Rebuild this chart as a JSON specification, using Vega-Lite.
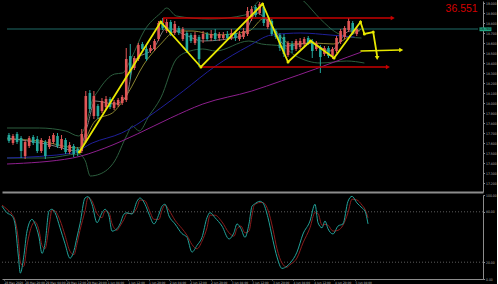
{
"$schema": "https://vega.github.io/schema/vega-lite/v6.json",
"background": "#000000",
"padding": 0,
"spacing": 1,
"usermeta": {"embedOptions": {"actions": false}},
"config": {
  "view": {"stroke": null},
  "axis": {"grid": false, "domain": true, "domainColor": "#8c8c8c", "tickColor": "#8c8c8c", "labelColor": "#b4b4b4", "labelFont": "DejaVu Sans Condensed", "labelFontSize": 3.4, "tickSize": 1.5, "labelPadding": 1}
},
"datasets": {
  "candles": [
    {"t":0,"o":17.68,"c":17.62,"h":17.70,"l":17.60},
    {"t":1,"o":17.60,"c":17.67,"h":17.69,"l":17.58},
    {"t":2,"o":17.69,"c":17.61,"h":17.71,"l":17.59},
    {"t":3,"o":17.65,"c":17.52,"h":17.67,"l":17.45},
    {"t":4,"o":17.47,"c":17.61,"h":17.63,"l":17.44},
    {"t":5,"o":17.57,"c":17.65,"h":17.67,"l":17.55},
    {"t":6,"o":17.66,"c":17.60,"h":17.68,"l":17.58},
    {"t":7,"o":17.64,"c":17.52,"h":17.67,"l":17.50},
    {"t":8,"o":17.52,"c":17.63,"h":17.65,"l":17.50},
    {"t":9,"o":17.61,"c":17.47,"h":17.63,"l":17.44},
    {"t":10,"o":17.56,"c":17.64,"h":17.67,"l":17.54},
    {"t":11,"o":17.61,"c":17.68,"h":17.70,"l":17.59},
    {"t":12,"o":17.67,"c":17.57,"h":17.70,"l":17.55},
    {"t":13,"o":17.55,"c":17.64,"h":17.68,"l":17.53},
    {"t":14,"o":17.63,"c":17.51,"h":17.65,"l":17.49},
    {"t":15,"o":17.51,"c":17.58,"h":17.61,"l":17.49},
    {"t":16,"o":17.57,"c":17.49,"h":17.59,"l":17.46},
    {"t":17,"o":17.54,"c":17.50,"h":17.56,"l":17.47},
    {"t":18,"o":17.52,"c":17.69,"h":17.74,"l":17.50},
    {"t":19,"o":17.62,"c":18.07,"h":18.12,"l":17.60},
    {"t":20,"o":18.10,"c":17.94,"h":18.13,"l":17.90},
    {"t":21,"o":17.87,"c":18.07,"h":18.12,"l":17.84},
    {"t":22,"o":17.97,"c":17.87,"h":17.99,"l":17.84},
    {"t":23,"o":17.92,"c":18.02,"h":18.05,"l":17.90},
    {"t":24,"o":17.96,"c":18.04,"h":18.07,"l":17.93},
    {"t":25,"o":18.04,"c":17.96,"h":18.06,"l":17.94},
    {"t":26,"o":17.95,"c":18.01,"h":18.03,"l":17.93},
    {"t":27,"o":17.98,"c":18.03,"h":18.05,"l":17.96},
    {"t":28,"o":18.00,"c":18.06,"h":18.08,"l":17.98},
    {"t":29,"o":18.03,"c":18.44,"h":18.55,"l":18.01},
    {"t":30,"o":18.47,"c":18.30,"h":18.59,"l":18.24},
    {"t":31,"o":18.35,"c":18.45,"h":18.47,"l":18.33},
    {"t":32,"o":18.44,"c":18.58,"h":18.60,"l":18.42},
    {"t":33,"o":18.59,"c":18.54,"h":18.61,"l":18.51},
    {"t":34,"o":18.54,"c":18.44,"h":18.57,"l":18.42},
    {"t":35,"o":18.52,"c":18.55,"h":18.58,"l":18.50},
    {"t":36,"o":18.54,"c":18.62,"h":18.64,"l":18.52},
    {"t":37,"o":18.64,"c":18.80,"h":18.82,"l":18.62},
    {"t":38,"o":18.82,"c":18.75,"h":18.85,"l":18.73},
    {"t":39,"o":18.72,"c":18.81,"h":18.84,"l":18.70},
    {"t":40,"o":18.81,"c":18.69,"h":18.83,"l":18.67},
    {"t":41,"o":18.70,"c":18.79,"h":18.82,"l":18.68},
    {"t":42,"o":18.75,"c":18.70,"h":18.77,"l":18.68},
    {"t":43,"o":18.64,"c":18.74,"h":18.76,"l":18.62},
    {"t":44,"o":18.70,"c":18.52,"h":18.72,"l":18.50},
    {"t":45,"o":18.68,"c":18.62,"h":18.70,"l":18.60},
    {"t":46,"o":18.60,"c":18.68,"h":18.71,"l":18.58},
    {"t":47,"o":18.66,"c":18.44,"h":18.68,"l":18.36},
    {"t":48,"o":18.64,"c":18.69,"h":18.72,"l":18.60},
    {"t":49,"o":18.69,"c":18.64,"h":18.71,"l":18.62},
    {"t":50,"o":18.65,"c":18.69,"h":18.73,"l":18.62},
    {"t":51,"o":18.70,"c":18.64,"h":18.74,"l":18.62},
    {"t":52,"o":18.65,"c":18.69,"h":18.71,"l":18.62},
    {"t":53,"o":18.65,"c":18.68,"h":18.71,"l":18.63},
    {"t":54,"o":18.69,"c":18.65,"h":18.72,"l":18.63},
    {"t":55,"o":18.65,"c":18.70,"h":18.74,"l":18.63},
    {"t":56,"o":18.70,"c":18.65,"h":18.72,"l":18.62},
    {"t":57,"o":18.64,"c":18.69,"h":18.72,"l":18.62},
    {"t":58,"o":18.66,"c":18.72,"h":18.75,"l":18.64},
    {"t":59,"o":18.69,"c":18.92,"h":18.96,"l":18.67},
    {"t":60,"o":18.84,"c":18.94,"h":18.97,"l":18.82},
    {"t":61,"o":18.96,"c":18.88,"h":18.98,"l":18.86},
    {"t":62,"o":18.90,"c":18.99,"h":19.01,"l":18.88},
    {"t":63,"o":18.96,"c":18.80,"h":18.98,"l":18.77},
    {"t":64,"o":18.76,"c":18.84,"h":18.86,"l":18.74},
    {"t":65,"o":18.82,"c":18.69,"h":18.84,"l":18.67},
    {"t":66,"o":18.72,"c":18.66,"h":18.74,"l":18.64},
    {"t":67,"o":18.68,"c":18.55,"h":18.70,"l":18.52},
    {"t":68,"o":18.66,"c":18.49,"h":18.69,"l":18.46},
    {"t":69,"o":18.48,"c":18.60,"h":18.62,"l":18.46},
    {"t":70,"o":18.59,"c":18.53,"h":18.62,"l":18.50},
    {"t":71,"o":18.54,"c":18.62,"h":18.64,"l":18.52},
    {"t":72,"o":18.56,"c":18.62,"h":18.65,"l":18.54},
    {"t":73,"o":18.59,"c":18.64,"h":18.66,"l":18.57},
    {"t":74,"o":18.65,"c":18.60,"h":18.67,"l":18.58},
    {"t":75,"o":18.62,"c":18.52,"h":18.64,"l":18.45},
    {"t":76,"o":18.54,"c":18.60,"h":18.62,"l":18.52},
    {"t":77,"o":18.56,"c":18.46,"h":18.58,"l":18.30},
    {"t":78,"o":18.49,"c":18.55,"h":18.57,"l":18.47},
    {"t":79,"o":18.55,"c":18.47,"h":18.57,"l":18.45},
    {"t":80,"o":18.47,"c":18.54,"h":18.56,"l":18.44},
    {"t":81,"o":18.52,"c":18.65,"h":18.67,"l":18.50},
    {"t":82,"o":18.61,"c":18.72,"h":18.74,"l":18.59},
    {"t":83,"o":18.66,"c":18.75,"h":18.77,"l":18.64},
    {"t":84,"o":18.73,"c":18.82,"h":18.85,"l":18.71},
    {"t":85,"o":18.80,"c":18.70,"h":18.82,"l":18.68},
    {"t":86,"o":18.69,"c":18.74,"h":18.76,"l":18.67}
  ],
  "lines": [
    {"s":"bbu","t":-0.48,"p":17.75},{"s":"bbu","t":7.51,"p":17.75},{"s":"bbu","t":14.04,"p":17.72},{"s":"bbu","t":17.19,"p":17.67},{"s":"bbu","t":18.89,"p":17.77},{"s":"bbu","t":20.58,"p":18.02},{"s":"bbu","t":22.03,"p":18.12},{"s":"bbu","t":26.15,"p":18.29},{"s":"bbu","t":28.09,"p":18.30},{"s":"bbu","t":30.27,"p":18.45},{"s":"bbu","t":33.41,"p":18.72},{"s":"bbu","t":37.53,"p":18.90},{"s":"bbu","t":38.98,"p":18.95},{"s":"bbu","t":41.4,"p":18.87},{"s":"bbu","t":49.64,"p":18.84},{"s":"bbu","t":58.35,"p":18.88},{"s":"bbu","t":61.26,"p":19.00},{"s":"bbu","t":63.68,"p":19.10},{"s":"bbu","t":69.73,"p":19.12},{"s":"bbu","t":72.88,"p":19.02},{"s":"bbu","t":77,"p":18.84},{"s":"bbu","t":81.11,"p":18.70},{"s":"bbu","t":84.26,"p":18.66},{"s":"bbu","t":87.17,"p":18.65},
    {"s":"bbl","t":-0.48,"p":17.45},{"s":"bbl","t":9.2,"p":17.45},{"s":"bbl","t":17.19,"p":17.49},{"s":"bbl","t":18.89,"p":17.42},{"s":"bbl","t":20.1,"p":17.27},{"s":"bbl","t":22.52,"p":17.29},{"s":"bbl","t":26.15,"p":17.42},{"s":"bbl","t":29.06,"p":17.67},{"s":"bbl","t":30.51,"p":17.77},{"s":"bbl","t":32.2,"p":17.72},{"s":"bbl","t":34.62,"p":17.87},{"s":"bbl","t":37.53,"p":18.05},{"s":"bbl","t":41.4,"p":18.44},{"s":"bbl","t":44.79,"p":18.52},{"s":"bbl","t":47.94,"p":18.54},{"s":"bbl","t":51.09,"p":18.52},{"s":"bbl","t":59.32,"p":18.62},{"s":"bbl","t":62.47,"p":18.59},{"s":"bbl","t":67.31,"p":18.57},{"s":"bbl","t":70.94,"p":18.47},{"s":"bbl","t":77,"p":18.40},{"s":"bbl","t":83.54,"p":18.42},{"s":"bbl","t":87.89,"p":18.40},
    {"s":"olive","t":-0.48,"p":17.64},{"s":"olive","t":7.51,"p":17.62},{"s":"olive","t":17.19,"p":17.55},{"s":"olive","t":21.31,"p":17.82},{"s":"olive","t":26.15,"p":17.92},{"s":"olive","t":29.3,"p":18.09},{"s":"olive","t":33.41,"p":18.39},{"s":"olive","t":37.53,"p":18.59},{"s":"olive","t":41.4,"p":18.72},{"s":"olive","t":45.52,"p":18.72},{"s":"olive","t":51.09,"p":18.68},{"s":"olive","t":59.32,"p":18.72},{"s":"olive","t":63.2,"p":18.85},{"s":"olive","t":66.59,"p":18.69},{"s":"olive","t":69.73,"p":18.59},{"s":"olive","t":75.3,"p":18.60},{"s":"olive","t":80.15,"p":18.59},{"s":"olive","t":84.99,"p":18.69},{"s":"olive","t":87.17,"p":18.74},
    {"s":"gray","t":-0.48,"p":17.65},{"s":"gray","t":9.2,"p":17.59},{"s":"gray","t":17.19,"p":17.52},{"s":"gray","t":19.37,"p":17.77},{"s":"gray","t":21.31,"p":18.02},{"s":"gray","t":26.15,"p":17.99},{"s":"gray","t":29.06,"p":18.07},{"s":"gray","t":30.99,"p":18.42},{"s":"gray","t":35.84,"p":18.55},{"s":"gray","t":38.98,"p":18.75},{"s":"gray","t":43.1,"p":18.69},{"s":"gray","t":47.94,"p":18.62},{"s":"gray","t":57.63,"p":18.67},{"s":"gray","t":61.26,"p":18.90},{"s":"gray","t":64.89,"p":18.77},{"s":"gray","t":68.52,"p":18.57},{"s":"gray","t":74.58,"p":18.60},{"s":"gray","t":79.42,"p":18.52},{"s":"gray","t":84.26,"p":18.72},{"s":"gray","t":86.68,"p":18.72},
    {"s":"blue","t":-0.48,"p":17.45},{"s":"blue","t":15.74,"p":17.50},{"s":"blue","t":20.58,"p":17.60},{"s":"blue","t":27.85,"p":17.70},{"s":"blue","t":37.53,"p":17.95},{"s":"blue","t":43.1,"p":18.12},{"s":"blue","t":51.09,"p":18.37},{"s":"blue","t":59.32,"p":18.57},{"s":"blue","t":64.89,"p":18.68},{"s":"blue","t":72.15,"p":18.70},{"s":"blue","t":79.42,"p":18.68},{"s":"blue","t":85.47,"p":18.66},
    {"s":"purple","t":-0.48,"p":17.39},{"s":"purple","t":15.74,"p":17.45},{"s":"purple","t":23.73,"p":17.55},{"s":"purple","t":31.72,"p":17.69},{"s":"purple","t":39.95,"p":17.85},{"s":"purple","t":47.94,"p":17.99},{"s":"purple","t":60.05,"p":18.12},{"s":"purple","t":67.31,"p":18.22},{"s":"purple","t":75.79,"p":18.34},{"s":"purple","t":83.78,"p":18.46},{"s":"purple","t":87.17,"p":18.51}
  ],
  "zig": [
    {"k":0,"t":17.43,"p":17.51,"v":1},{"k":1,"t":37.53,"p":18.81,"v":1},{"k":2,"t":47.46,"p":18.36,"v":1},{"k":3,"t":62.71,"p":18.99,"v":1},{"k":4,"t":69.01,"p":18.41,"v":1},{"k":5,"t":74.58,"p":18.62,"v":1},{"k":6,"t":80.39,"p":18.45,"v":1},{"k":7,"t":86.92,"p":18.81,"v":1},{"k":8,"t":87.89,"p":18.69,"v":1},{"k":9,"t":90.07,"p":18.71,"v":1},{"k":10,"t":91.04,"p":18.47,"v":0}
  ],
  "red": [
    {"g":"up","k":0,"t":38.26,"p":18.80},{"g":"up","k":1,"t":38.26,"p":18.85},{"g":"up","k":2,"t":94.67,"p":18.85},
    {"g":"lo","k":0,"t":47.46,"p":18.36},{"g":"lo","k":1,"t":93.46,"p":18.36}
  ],
  "harrow": [{"t":86.92,"p":18.52},{"t":96.85,"p":18.53}],
  "heads": [
    {"t":94.9,"p":18.85,"shape":"triangle-right","col":"#c80000"},
    {"t":93.7,"p":18.36,"shape":"triangle-right","col":"#c80000"},
    {"t":97.0,"p":18.53,"shape":"triangle-right","col":"#e8e800"},
    {"t":91.04,"p":18.45,"shape":"triangle-down","col":"#e8e800"}
  ],
  "oscK": [
    {"t":-0.48,"v":86.7},{"t":0.73,"v":78.8},{"t":1.94,"v":75},{"t":2.66,"v":65.6},{"t":3.5,"v":26},{"t":3.95,"v":7},{"t":4.77,"v":26},{"t":5.57,"v":57},{"t":6.78,"v":71},{"t":7.51,"v":65.6},{"t":8.47,"v":50},{"t":9.2,"v":30.5},{"t":9.93,"v":42},{"t":10.9,"v":81},{"t":11.62,"v":83},{"t":12.35,"v":79},{"t":13.56,"v":61},{"t":14.77,"v":42},{"t":15.98,"v":24.7},{"t":16.95,"v":34},{"t":17.68,"v":50},{"t":18.4,"v":65.6},{"t":19.61,"v":96.4},{"t":20.34,"v":98},{"t":21.31,"v":89},{"t":22.52,"v":67},{"t":23.73,"v":78.8},{"t":24.46,"v":83},{"t":25.42,"v":75},{"t":26.15,"v":57},{"t":27.36,"v":59.8},{"t":28.09,"v":65.6},{"t":29.06,"v":77.3},{"t":29.78,"v":78.8},{"t":30.99,"v":77.3},{"t":32.2,"v":92.5},{"t":32.93,"v":96.4},{"t":34.14,"v":89},{"t":35.11,"v":77.3},{"t":36.32,"v":65.6},{"t":37.53,"v":77.3},{"t":38.26,"v":86.7},{"t":38.98,"v":89},{"t":39.95,"v":75},{"t":41.4,"v":65.6},{"t":43.1,"v":54},{"t":44.31,"v":49.6},{"t":45.52,"v":32},{"t":46.73,"v":40},{"t":47.94,"v":49.6},{"t":49.15,"v":73},{"t":49.88,"v":79},{"t":51.09,"v":73},{"t":52.78,"v":63},{"t":54.48,"v":47.7},{"t":55.69,"v":55.4},{"t":56.42,"v":65.6},{"t":57.38,"v":59.8},{"t":58.35,"v":49.6},{"t":59.32,"v":65.6},{"t":60.05,"v":86.7},{"t":60.6,"v":89},{"t":61.99,"v":92.5},{"t":62.71,"v":90.5},{"t":63.92,"v":73},{"t":65.13,"v":45.7},{"t":66.1,"v":26.2},{"t":67.31,"v":12.6},{"t":68.52,"v":15.3},{"t":69.25,"v":18.8},{"t":70.94,"v":32},{"t":72.4,"v":53.6},{"t":74.09,"v":69},{"t":75.3,"v":89},{"t":76.03,"v":67},{"t":77,"v":61},{"t":77.72,"v":69},{"t":78.45,"v":59.8},{"t":79.66,"v":53.6},{"t":80.87,"v":63},{"t":82.08,"v":65.6},{"t":83.29,"v":92.5},{"t":84.26,"v":98.4},{"t":85.47,"v":90.5},{"t":86.68,"v":84.7},{"t":87.41,"v":80.8},{"t":88.14,"v":65.6}
  ],
  "oscD": [
    {"t":-0.48,"v":88},{"t":0.73,"v":83},{"t":1.94,"v":77},{"t":2.66,"v":70},{"t":3.5,"v":45},{"t":3.95,"v":20},{"t":4.77,"v":15},{"t":5.57,"v":40},{"t":6.78,"v":64},{"t":7.51,"v":68},{"t":8.47,"v":58},{"t":9.2,"v":40},{"t":9.93,"v":36},{"t":10.9,"v":62},{"t":11.62,"v":82},{"t":12.35,"v":81},{"t":13.56,"v":70},{"t":14.77,"v":52},{"t":15.98,"v":33},{"t":16.95,"v":29},{"t":17.68,"v":42},{"t":18.4,"v":58},{"t":19.61,"v":81},{"t":20.34,"v":97},{"t":21.31,"v":93},{"t":22.52,"v":78},{"t":23.73,"v":73},{"t":24.46,"v":81},{"t":25.42,"v":79},{"t":26.15,"v":66},{"t":27.36,"v":58},{"t":28.09,"v":63},{"t":29.06,"v":71},{"t":29.78,"v":78},{"t":30.99,"v":78},{"t":32.2,"v":85},{"t":32.93,"v":94},{"t":34.14,"v":93},{"t":35.11,"v":83},{"t":36.32,"v":71},{"t":37.53,"v":71},{"t":38.26,"v":82},{"t":38.98,"v":88},{"t":39.95,"v":82},{"t":41.4,"v":70},{"t":43.1,"v":60},{"t":44.31,"v":52},{"t":45.52,"v":41},{"t":46.73,"v":36},{"t":47.94,"v":45},{"t":49.15,"v":61},{"t":49.88,"v":76},{"t":51.09,"v":76},{"t":52.78,"v":68},{"t":54.48,"v":55},{"t":55.69,"v":51},{"t":56.42,"v":60},{"t":57.38,"v":63},{"t":58.35,"v":55},{"t":59.32,"v":57},{"t":60.05,"v":76},{"t":60.6,"v":88},{"t":61.99,"v":91},{"t":62.71,"v":91},{"t":63.92,"v":82},{"t":65.13,"v":59},{"t":66.1,"v":36},{"t":67.31,"v":19},{"t":68.52,"v":14},{"t":69.25,"v":17},{"t":70.94,"v":25},{"t":72.4,"v":43},{"t":74.09,"v":61},{"t":75.3,"v":79},{"t":76.03,"v":78},{"t":77,"v":64},{"t":77.72,"v":65},{"t":78.45,"v":64},{"t":79.66,"v":57},{"t":80.87,"v":58},{"t":82.08,"v":64},{"t":83.29,"v":79},{"t":84.26,"v":95},{"t":85.47,"v":94},{"t":86.68,"v":88},{"t":87.41,"v":83},{"t":88.14,"v":73}
  ]
},
"vconcat": [
  {
    "width": 481, "height": 191,
    "encoding": {
      "x": {"field": "t", "type": "quantitative", "scale": {"domain": [-0.484, 115.98], "nice": false, "zero": false},
        "axis": {"orient": "bottom", "title": null, "labels": false, "ticks": false, "domain": true, "domainColor": "#8c8c8c", "domainWidth": 2}},
      "y": {"field": "p", "type": "quantitative", "scale": {"domain": [17.11, 19.02], "nice": false, "zero": false},
        "axis": {"orient": "right", "title": null, "format": ".3f", "values": [17.2,17.3,17.4,17.5,17.6,17.7,17.8,17.9,18.0,18.1,18.2,18.3,18.4,18.5,18.6,18.7,18.8,18.9,19.0]}}
    },
    "layer": [
      {"data": {"name": "lines"},
       "mark": {"type": "line", "strokeWidth": 1, "interpolate": "monotone", "clip": true},
       "encoding": {
         "color": {"field": "s", "type": "nominal", "legend": null,
           "scale": {"domain": ["bbu","bbl","olive","gray","blue","purple"], "range": ["#2c5e3e","#2c5e3e","#8a8530","#7c7c7c","#1f1f9a","#8d1f8d"]}}}},
      {"data": {"values": [{"t": -0.48, "p": 18.74}, {"t": 115.98, "p": 18.74}]},
       "mark": {"type": "line", "color": "#1f6b66", "strokeWidth": 1},
       "encoding": {}},
      {"data": {"name": "candles"},
       "mark": {"type": "rule", "strokeWidth": 1},
       "encoding": {
         "y": {"field": "l", "type": "quantitative", "title": null},
         "y2": {"field": "h"},
         "color": {"condition": {"test": "datum.c >= datum.o", "value": "#e05656"}, "value": "#22a89c"}}},
      {"data": {"name": "candles"},
       "mark": {"type": "bar", "size": 2.6},
       "encoding": {
         "y": {"field": "o", "type": "quantitative", "title": null},
         "y2": {"field": "c"},
         "color": {"condition": {"test": "datum.c >= datum.o", "value": "#e05656"}, "value": "#22a89c"}}},
      {"data": {"name": "red"},
       "mark": {"type": "line", "color": "#c80000", "strokeWidth": 1.6},
       "encoding": {"detail": {"field": "g"}, "order": {"field": "k"}}},
      {"data": {"name": "zig"},
       "mark": {"type": "line", "color": "#e8e800", "strokeWidth": 1.8},
       "encoding": {"order": {"field": "k"}}},
      {"data": {"name": "zig"},
       "transform": [{"filter": "datum.v == 1"}],
       "mark": {"type": "point", "filled": true, "color": "#e8e800", "size": 9, "opacity": 1},
       "encoding": {}},
      {"data": {"name": "harrow"},
       "mark": {"type": "line", "color": "#e8e800", "strokeWidth": 1.6},
       "encoding": {}},
      {"data": {"name": "heads"},
       "mark": {"type": "point", "filled": true, "size": 22, "opacity": 1},
       "encoding": {
         "shape": {"field": "shape", "type": "nominal", "scale": null},
         "color": {"field": "col", "type": "nominal", "scale": null}}},
      {"data": {"values": [{"t": 115.9, "p": 18.91, "label": "36.551"}]},
       "mark": {"type": "text", "align": "right", "baseline": "alphabetic", "font": "Liberation Sans", "fontSize": 10.5, "color": "#d40000"},
       "encoding": {"text": {"field": "label"}}},
      {"data": {"values": [{"t": 116.35, "t2": 119.3, "p": 18.757, "p2": 18.718}]},
       "mark": {"type": "rect", "color": "#1fa37f"},
       "encoding": {"x2": {"field": "t2"}, "y2": {"field": "p2"}}},
      {"data": {"values": [{"t": 117.8, "p": 18.737, "label": "18.740"}]},
       "mark": {"type": "text", "align": "center", "baseline": "middle", "font": "DejaVu Sans Condensed", "fontSize": 3.4, "color": "#000000"},
       "encoding": {"text": {"field": "label"}}}
    ]
  },
  {
    "width": 481, "height": 84,
    "encoding": {
      "x": {"field": "t", "type": "quantitative", "scale": {"domain": [-0.484, 115.98], "nice": false, "zero": false},
        "axis": {"orient": "bottom", "title": null, "labelAlign": "left", "labelOverlap": false, "labelFontSize": 3.2, "labelPadding": 0.3, "tickSize": 1,
          "values": [0,5,10,15,20,25,30,35,40,45,50,55,60,65,70,75,80,85],
          "labelExpr": "['28 May 2020','28 May 20:00','29 May 04:00','29 May 12:00','29 May 20:00','1 Jun 04:00','1 Jun 12:00','1 Jun 20:00','2 Jun 04:00','2 Jun 12:00','2 Jun 20:00','3 Jun 04:00','3 Jun 12:00','3 Jun 20:00','4 Jun 04:00','4 Jun 12:00','4 Jun 20:00','5 Jun 04:00'][round(datum.value/5)]"}},
      "y": {"field": "v", "type": "quantitative", "scale": {"domain": [0, 100], "nice": false},
        "axis": {"orient": "right", "title": null, "format": ".2f", "values": [0, 20, 80, 100]}}
    },
    "layer": [
      {"data": {"values": [{"t": -0.48, "v": 80, "g": "a"}, {"t": 115.98, "v": 80, "g": "a"}, {"t": -0.48, "v": 20, "g": "b"}, {"t": 115.98, "v": 20, "g": "b"}]},
       "mark": {"type": "line", "color": "#5e5e5e", "strokeDash": [1, 2], "strokeWidth": 1},
       "encoding": {"detail": {"field": "g"}}},
      {"data": {"name": "oscD"},
       "mark": {"type": "line", "color": "#8b1c1c", "strokeWidth": 1, "interpolate": "monotone"},
       "encoding": {}},
      {"data": {"name": "oscK"},
       "mark": {"type": "line", "color": "#22a39a", "strokeWidth": 1, "interpolate": "monotone"},
       "encoding": {}}
    ]
  }
]
}
